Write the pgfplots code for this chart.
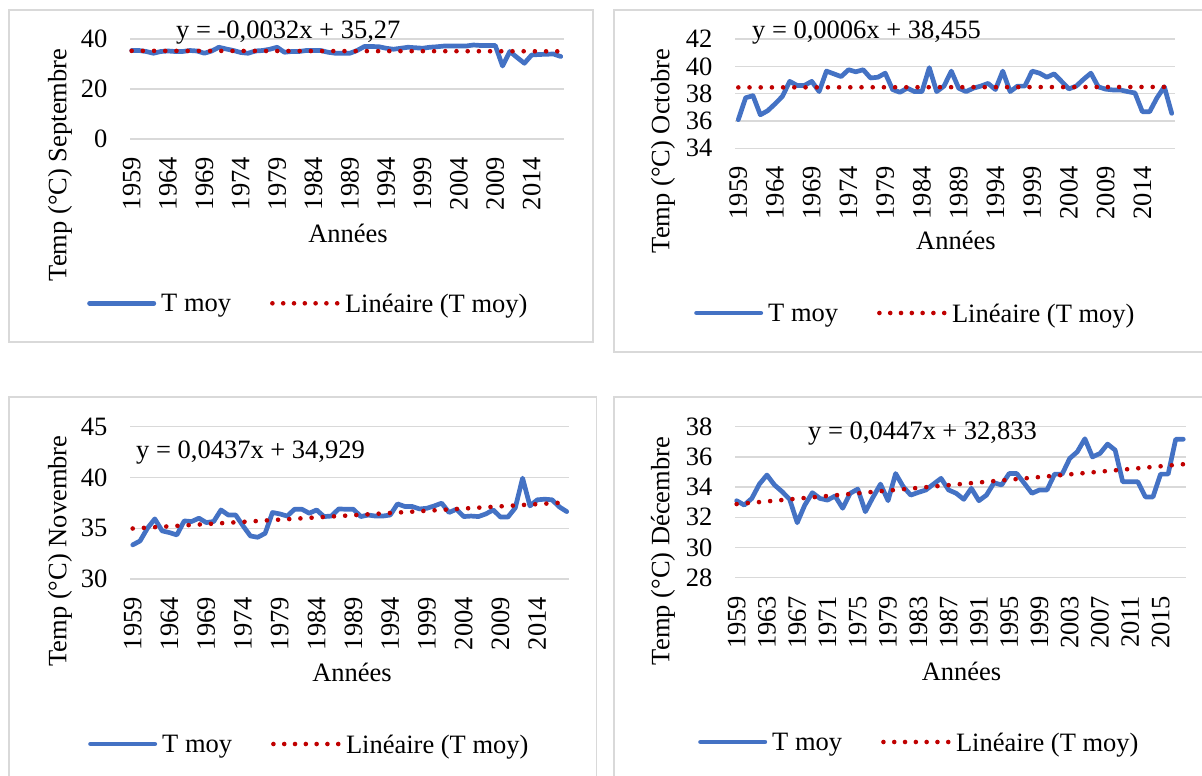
\documentclass[border=0pt]{standalone}
\usepackage{fontspec}
\setmainfont{Liberation Serif}
\usepackage{pgfplots}
\usepackage{pgfplotstable}
\pgfplotsset{compat=1.18}
\definecolor{xlblue}{HTML}{4472C4}
\definecolor{xlred}{HTML}{C00000}
\definecolor{xlgrid}{HTML}{D9D9D9}
\newcommand\cf{\fontsize{26.5pt}{32pt}\selectfont}

\pgfplotstableread{
year t
1959 35.4
1960 35.4
1961 35.0
1962 34.3
1963 35.0
1964 35.2
1965 35.0
1966 35.0
1967 35.4
1968 35.2
1969 34.3
1970 35.2
1971 36.7
1972 36.0
1973 35.4
1974 34.6
1975 34.3
1976 35.2
1977 35.4
1978 35.9
1979 36.7
1980 34.7
1981 35.0
1982 35.0
1983 35.4
1984 35.4
1985 35.4
1986 34.7
1987 34.3
1988 34.3
1989 34.3
1990 35.4
1991 37.0
1992 37.0
1993 36.9
1994 36.3
1995 35.9
1996 36.3
1997 36.7
1998 36.5
1999 36.3
2000 36.7
2001 36.9
2002 37.2
2003 37.2
2004 37.2
2005 37.2
2006 37.6
2007 37.4
2008 37.4
2009 37.4
2010 29.2
2011 35.0
2012 32.6
2013 30.3
2014 33.6
2015 33.8
2016 33.9
2017 34.0
2018 33.0
}\sept

\pgfplotstableread{
year t
1959 36.1
1960 37.7
1961 37.85
1962 36.45
1963 36.75
1964 37.25
1965 37.8
1966 38.9
1967 38.6
1968 38.6
1969 38.9
1970 38.15
1971 39.65
1972 39.45
1973 39.25
1974 39.75
1975 39.6
1976 39.75
1977 39.15
1978 39.2
1979 39.5
1980 38.3
1981 38.1
1982 38.4
1983 38.15
1984 38.15
1985 39.9
1986 38.15
1987 38.55
1988 39.65
1989 38.4
1990 38.15
1991 38.4
1992 38.55
1993 38.75
1994 38.3
1995 39.65
1996 38.15
1997 38.55
1998 38.55
1999 39.65
2000 39.5
2001 39.2
2002 39.45
2003 38.9
2004 38.35
2005 38.55
2006 39.05
2007 39.5
2008 38.5
2009 38.33
2010 38.27
2011 38.27
2012 38.15
2013 38.05
2014 36.68
2015 36.68
2016 37.7
2017 38.5
2018 36.56
}\octo

\pgfplotstableread{
year t
1959 33.36
1960 33.75
1961 35.0
1962 35.92
1963 34.74
1964 34.57
1965 34.34
1966 35.72
1967 35.66
1968 35.99
1969 35.56
1970 35.66
1971 36.8
1972 36.3
1973 36.3
1974 35.23
1975 34.24
1976 34.11
1977 34.5
1978 36.55
1979 36.41
1980 36.2
1981 36.87
1982 36.87
1983 36.48
1984 36.8
1985 36.15
1986 36.2
1987 36.9
1988 36.87
1989 36.87
1990 36.15
1991 36.3
1992 36.2
1993 36.2
1994 36.3
1995 37.4
1996 37.14
1997 37.14
1998 36.9
1999 36.97
2000 37.2
2001 37.47
2002 36.55
2003 36.87
2004 36.15
2005 36.2
2006 36.15
2007 36.41
2008 36.8
2009 36.1
2010 36.1
2011 37.0
2012 39.93
2013 37.2
2014 37.8
2015 37.86
2016 37.8
2017 37.1
2018 36.64
}\nove

\pgfplotstableread{
year t
1959 33.1
1960 32.81
1961 33.25
1962 34.2
1963 34.8
1964 34.14
1965 33.7
1966 33.19
1967 31.64
1968 32.81
1969 33.63
1970 33.25
1971 33.14
1972 33.41
1973 32.6
1974 33.59
1975 33.87
1976 32.37
1977 33.32
1978 34.2
1979 33.1
1980 34.9
1981 34.03
1982 33.47
1983 33.65
1984 33.81
1985 34.2
1986 34.58
1987 33.81
1988 33.59
1989 33.19
1990 33.92
1991 33.1
1992 33.47
1993 34.29
1994 34.14
1995 34.9
1996 34.9
1997 34.25
1998 33.59
1999 33.81
2000 33.81
2001 34.86
2002 34.86
2003 35.9
2004 36.34
2005 37.2
2006 36.0
2007 36.23
2008 36.85
2009 36.45
2010 34.35
2011 34.35
2012 34.35
2013 33.35
2014 33.35
2015 34.86
2016 34.86
2017 37.17
2018 37.17
}\dece

\pgfplotsset{
  panel/.style={
    scale only axis, anchor=north west,
    axis line style={draw=none}, major tick length=0pt,
    ymajorgrids, grid style={xlgrid, line width=1.3pt},
    /pgf/number format/assume math mode=true,
    /pgf/number format/1000 sep={},
    tick label style={font=\cf},
    label style={font=\cf},
    xticklabel style={rotate=90, anchor=east, inner sep=0pt},
    yticklabel style={anchor=east, inner sep=0pt},
    xticklabel shift=18pt, yticklabel shift=22.5pt,
    clip=false,
    legend columns=2,
    legend style={draw=none, fill=none, inner sep=0pt, anchor=west, font=\cf,
      cells={anchor=center},
      nodes={inner xsep=5pt, inner ysep=0pt, text depth=0pt},
      /tikz/every even column/.append style={column sep=34pt}},
    xlabel style={anchor=base, inner sep=0pt},
    ylabel style={anchor=center, inner sep=0pt},
  },
  tmoy/.style={xlblue, line width=4.7pt, line join=round, line cap=round,
    legend image code/.code={\draw[xlblue, line width=4.7pt, line cap=round] (2.35pt,0pt) -- (66.65pt,0pt);}},
  trend/.style={xlred, line width=4.6pt, line cap=round, dash pattern=on 0pt off 11.2pt,
    legend image code/.code={\draw[xlred, line width=4.6pt, line cap=round, dash pattern=on 0pt off 10.8pt] (2.3pt,0pt) -- (67.6pt,0pt);}},
}

\begin{document}
\begin{tikzpicture}[font=\cf]
\useasboundingbox (0pt,0pt) rectangle (1202pt,-776pt);
\draw[xlgrid, line width=1.3pt] (9pt,-10pt) rectangle (593pt,-342pt);
\draw[xlgrid, line width=1.3pt] (614pt,-10pt) rectangle (1215pt,-352pt);
\draw[xlgrid, line width=1.3pt] (9pt,-397pt) rectangle (596.5pt,-790pt);
\draw[xlgrid, line width=1.3pt] (614pt,-397pt) rectangle (1215pt,-790pt);

% Septembre
\begin{axis}[panel, at={(130pt,-39pt)}, width=434pt, height=100pt,
  xmin=1958.77, xmax=2018.45, ymin=0, ymax=40, ytick={0,20,40},
  xtick={1959,1964,...,2014},
  xlabel={Années}, xlabel style={at={(axis description cs:0.5023,-1.03)}},
  ylabel={Temp (°C) Septembre}, ylabel style={at={(axis description cs:-0.1613,-0.26)}},
  legend style={at={(axis description cs:-0.0991,-1.643)}}]
\addplot[tmoy] table[x=year,y=t]{\sept};
\addplot[trend] coordinates {(1959,35.2668) (2018,35.078)};
\legend{T moy, Linéaire (T moy)}
\node[anchor=base west, inner sep=0pt] at (axis description cs:0.106,1.007) {y = -0,0032x + 35,27};
\end{axis}

% Octobre
\begin{axis}[panel, at={(735pt,-39pt)}, width=440pt, height=109.3pt,
  xmin=1958.55, xmax=2018.45, ymin=34, ymax=42, ytick={34,36,...,42},
  xtick={1959,1964,...,2014},
  xlabel={Années}, xlabel style={at={(axis description cs:0.502,-0.930)}},
  ylabel={Temp (°C) Octobre}, ylabel style={at={(axis description cs:-0.1636,-0.0247)}},
  legend style={at={(axis description cs:-0.0932,-1.507)}}]
\addplot[tmoy] table[x=year,y=t]{\octo};
\addplot[trend] coordinates {(1959,38.4556) (2018,38.491)};
\legend{T moy, Linéaire (T moy)}
\node[anchor=base west, inner sep=0pt] at (axis description cs:0.0386,1.0046) {y = 0,0006x + 38,455};
\end{axis}

% Novembre
\begin{axis}[panel, at={(130pt,-426.7pt)}, width=439.3pt, height=152.3pt,
  xmin=1958.63, xmax=2018.35, ymin=30, ymax=45, ytick={30,35,...,45},
  xtick={1959,1964,...,2014},
  xlabel={Années}, xlabel style={at={(axis description cs:0.5054,-0.6743)}},
  ylabel={Temp (°C) Novembre}, ylabel style={at={(axis description cs:-0.1593,0.1838)}},
  legend style={at={(axis description cs:-0.0956,-1.0834)}}]
\addplot[tmoy] table[x=year,y=t]{\nove};
\addplot[trend] coordinates {(1959,34.9727) (2018,37.551)};
\legend{T moy, Linéaire (T moy)}
\node[anchor=base west, inner sep=0pt] at (axis description cs:0.01366,0.7925) {y = 0,0437x + 34,929};
\end{axis}

% Decembre
\begin{axis}[panel, at={(735pt,-426.7pt)}, width=451pt, height=151pt,
  xmin=1958.78, xmax=2018.36, ymin=28, ymax=38, ytick={28,30,...,38},
  xtick={1959,1963,...,2015},
  xlabel={Années}, xlabel style={at={(axis description cs:0.5022,-0.6775)}},
  ylabel={Temp (°C) Décembre}, ylabel style={at={(axis description cs:-0.1596,0.1768)}},
  legend style={at={(axis description cs:-0.082,-1.088)}}]
\addplot[tmoy] table[x=year,y=t]{\dece};
\addplot[trend] coordinates {(1959,32.8777) (2018,35.515)};
\legend{T moy, Linéaire (T moy)}
\node[anchor=base west, inner sep=0pt] at (axis description cs:0.1619,0.9166) {y = 0,0447x + 32,833};
\end{axis}
\end{tikzpicture}
\end{document}
